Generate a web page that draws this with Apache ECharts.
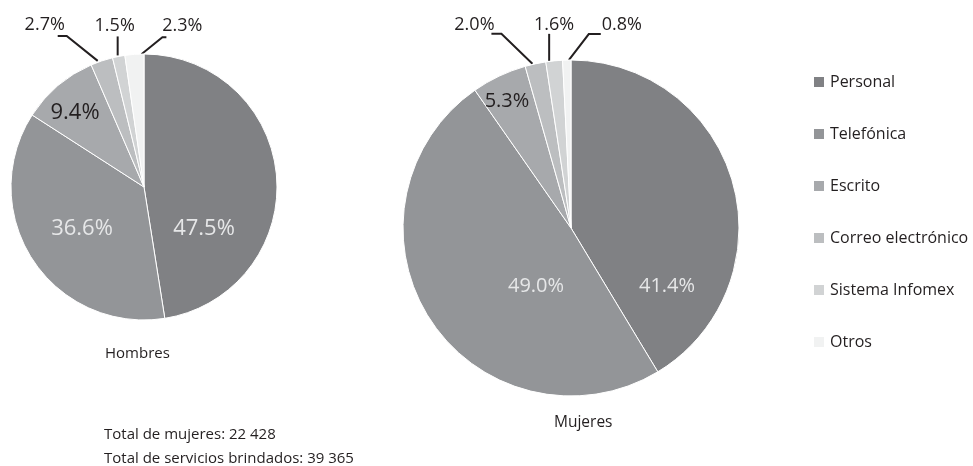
<!DOCTYPE html>
<html><head><meta charset="utf-8">
<script src="https://cdn.jsdelivr.net/npm/echarts@6/dist/echarts.min.js"></script>
<style>html,body{margin:0;padding:0;background:#fff}#c{width:973px;height:466px}</style>
</head><body><div id="c"></div>
<script>
const categories = ['Personal','Telefónica','Escrito','Correo electrónico','Sistema Infomex','Otros'];
const hombres = [47.5, 36.6, 9.4, 2.7, 1.5, 2.3];
const mujeres = [41.4, 49.0, 5.3, 2.0, 1.6, 0.8];
const pieTitles = ['Hombres', 'Mujeres'];
const totals = ['Total de mujeres: 22 428', 'Total de servicios brindados: 39 365'];

const colors = ['#808184','#939598','#a7a9ac','#bcbec0','#d1d3d4','#f1f2f2'];
const FONT = 'Open Sans';
const DARK = '#231f20';
const LIGHT = '#e6e7e8';

// layout (pixel offsets)
const pies = [
  { data: hombres, center: [144, 187], r: 133, innerFont: 22,
    inner: { 0: [60, 42, LIGHT], 1: [-62, 42, LIGHT], 2: [-69, -74, DARK] },
    outer: {
      3: { s: [-4, 0], e: [-35, -25], f: [-44, -25], t: [-57, -36] },
      4: { s: [-1, -1], e: [-1, -20], f: [-1, -20], t: [-4, -31] },
      5: { s: [7, 0], e: [28, -17], f: [32, -17], t: [48, -28] }
    } },
  { data: mujeres, center: [571, 228], r: 168, innerFont: 20,
    inner: { 0: [96, 58, LIGHT], 1: [-35, 58, LIGHT], 2: [-64, -127, DARK] },
    outer: {
      3: { s: [-3, 0], e: [-34, -30], f: [-44, -30], t: [-61, -39] },
      4: { s: [-5, 0], e: [-5, -27], f: [-5, -27], t: [0, -36] },
      5: { s: [2, 0], e: [22, -26], f: [34, -26], t: [55, -35] }
    } }
];

function buildSeries(L) {
  return {
    type: 'pie',
    center: L.center,
    radius: L.r,
    startAngle: 90,
    clockwise: true,
    avoidLabelOverlap: false,
    animation: false,
    itemStyle: { borderColor: '#fff', borderWidth: 1 },
    emphasis: { disabled: true },
    labelLine: { show: true, length: 15, length2: 10, lineStyle: { color: DARK, width: 2 } },
    data: L.data.map((v, i) => {
      const inn = L.inner[i];
      return {
        name: categories[i], value: v,
        itemStyle: { color: colors[i] },
        label: inn ? { position: 'inside', color: inn[2], fontSize: L.innerFont }
                   : { position: 'outside', color: DARK, fontSize: 18 },
        labelLine: { show: !inn }
      };
    }),
    label: {
      fontFamily: FONT,
      formatter: p => p.value.toFixed(1) + '%'
    },
    labelLayout: function (p) {
      const inn = L.inner[p.dataIndex];
      if (inn) {
        return { x: L.center[0] + inn[0], y: L.center[1] + inn[1], align: 'center', verticalAlign: 'middle' };
      }
      const o = L.outer[p.dataIndex];
      const p0 = p.labelLinePoints ? p.labelLinePoints[0] : [L.center[0], L.center[1] - L.r];
      const pt = d => [p0[0] + d[0], p0[1] + d[1]];
      return {
        x: p0[0] + o.t[0], y: p0[1] + o.t[1], align: 'center', verticalAlign: 'middle',
        labelLinePoints: [pt(o.s), pt(o.e), pt(o.f)]
      };
    }
  };
}

const chart = echarts.init(document.getElementById('c'), null, { renderer: 'canvas' });
const ts = (size) => ({ fontFamily: FONT, fontSize: size, fontWeight: 'normal', color: DARK });
chart.setOption({
  animation: false,
  textStyle: { fontFamily: FONT },
  title: [
    { text: pieTitles[0], left: 105, top: 346, padding: 0, textStyle: ts(15) },
    { text: pieTitles[1], left: 554, top: 415, padding: 0, textStyle: ts(15.5) },
    { text: totals[0], left: 104, top: 427, padding: 0, textStyle: ts(15) },
    { text: totals[1], left: 104, top: 451, padding: 0, textStyle: ts(15) }
  ],
  legend: {
    orient: 'vertical', left: 812, top: 74, padding: 0,
    itemWidth: 12, itemHeight: 12, itemGap: 36, icon: 'rect',
    selectedMode: false,
    textStyle: { fontFamily: FONT, fontSize: 16, color: DARK },
    data: categories
  },
  series: pies.map(buildSeries)
});
</script>
</body></html>
